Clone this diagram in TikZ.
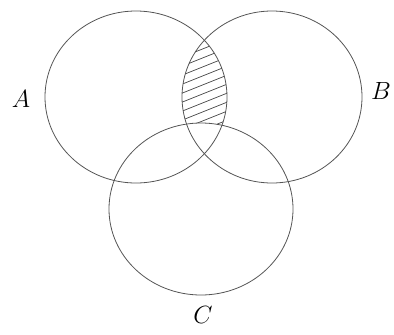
\documentclass[tikz,border=0pt]{standalone}
\usetikzlibrary{calc}
\definecolor{colEdge}{RGB}{85,85,85}
\definecolor{colHatch}{RGB}{70,70,70}
\tikzset{
  setEdge/.style={draw=colEdge, line width=0.8pt},
  hatchLine/.style={draw=colHatch, line width=0.7pt},
  setLabel/.style={font=\fontsize{24}{24}\selectfont, inner sep=0pt}
}
\begin{document}
\begin{tikzpicture}[x=1pt, y=-1pt]
  \useasboundingbox (0,0) rectangle (394,335);

  % centres of the three sets
  \coordinate (cA) at (136,97);
  \coordinate (cB) at (272,97);
  \coordinate (cC) at (201,209);

  % hatched part: A and B, outside C
  \begin{scope}
    \clip (cA) ellipse [x radius=91pt, y radius=86pt];
    \clip (cB) ellipse [x radius=90pt, y radius=86pt];
    \begin{scope}[even odd rule]
      \clip (0,0) rectangle (394,335)
        (cC) ellipse [x radius=92pt, y radius=86pt];
      \foreach \k in {0,...,18} {
        \draw[hatchLine] (160,{30+9*\k}) -- (250,{30+9*\k-36});
      }
    \end{scope}
  \end{scope}

  % the sets
  \draw[setEdge] (cA) ellipse [x radius=91pt, y radius=86pt];
  \draw[setEdge] (cB) ellipse [x radius=90pt, y radius=86pt];
  \draw[setEdge] (cC) ellipse [x radius=92pt, y radius=86pt];

  \node[setLabel] (labA) at (21,99) {$A$};
  \node[setLabel] (labB) at (381,91) {$B$};
  \node[setLabel] (labC) at (203,315) {$C$};
\end{tikzpicture}
\end{document}
